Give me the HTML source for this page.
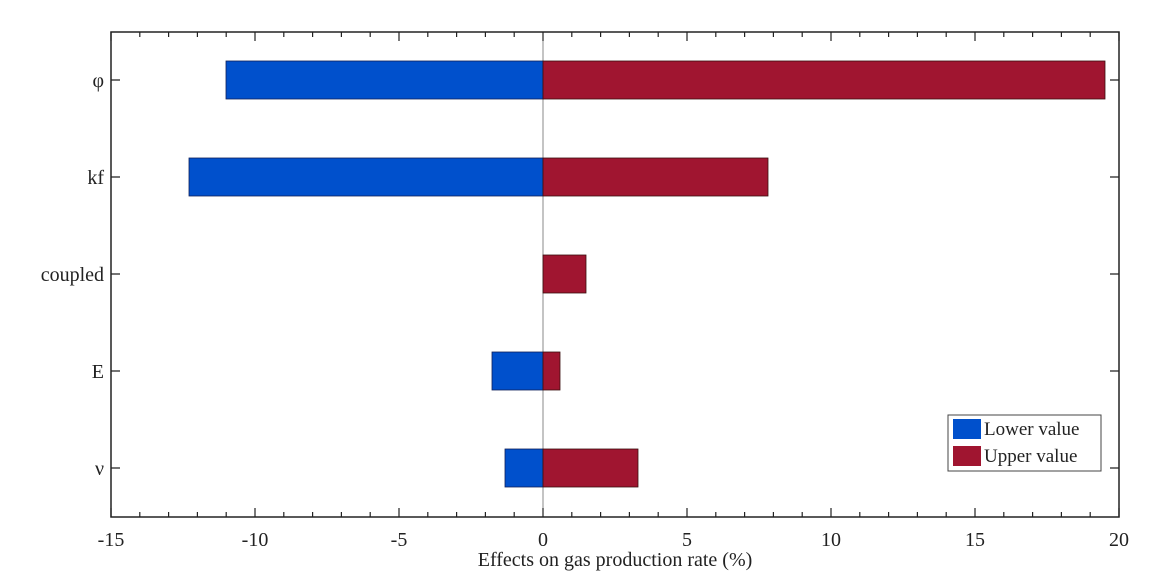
<!DOCTYPE html>
<html><head><meta charset="utf-8"><style>
html,body{margin:0;padding:0;background:#fff;}
svg{display:block;}
text{font-family:"Liberation Serif","DejaVu Serif",serif;fill:#222;}
</style></head><body>
<svg width="1169" height="577" viewBox="0 0 1169 577" xmlns="http://www.w3.org/2000/svg">
<rect width="1169" height="577" fill="#fff"/>
<line x1="543" y1="32" x2="543" y2="517" stroke="#888" stroke-width="1"/>
<g stroke="#3a1010" stroke-width="0.8">
<rect x="226" y="61" width="317" height="38" fill="#0050cc" stroke="#10205a"/>
<rect x="543" y="61" width="562" height="38" fill="#a01530"/>
<rect x="189" y="158" width="354" height="38" fill="#0050cc" stroke="#10205a"/>
<rect x="543" y="158" width="225" height="38" fill="#a01530"/>
<rect x="543" y="255" width="43" height="38" fill="#a01530"/>
<rect x="492" y="352" width="51" height="38" fill="#0050cc" stroke="#10205a"/>
<rect x="543" y="352" width="17" height="38" fill="#a01530"/>
<rect x="505" y="449" width="38" height="38" fill="#0050cc" stroke="#10205a"/>
<rect x="543" y="449" width="95" height="38" fill="#a01530"/>
</g>
<path stroke="#222" stroke-width="1.2" fill="none" d="
M111 517v-9M139.8 517v-5M168.6 517v-5M197.4 517v-5M226.2 517v-5M255 517v-9M283.8 517v-5M312.6 517v-5M341.4 517v-5M370.2 517v-5M399 517v-9M427.8 517v-5M456.6 517v-5M485.4 517v-5M514.2 517v-5M543 517v-9M571.8 517v-5M600.6 517v-5M629.4 517v-5M658.2 517v-5M687 517v-9M715.8 517v-5M744.6 517v-5M773.4 517v-5M802.2 517v-5M831 517v-9M859.8 517v-5M888.6 517v-5M917.4 517v-5M946.2 517v-5M975 517v-9M1003.8 517v-5M1032.6 517v-5M1061.4 517v-5M1090.2 517v-5M1119 517v-9
M111 32v9M139.8 32v5M168.6 32v5M197.4 32v5M226.2 32v5M255 32v9M283.8 32v5M312.6 32v5M341.4 32v5M370.2 32v5M399 32v9M427.8 32v5M456.6 32v5M485.4 32v5M514.2 32v5M543 32v9M571.8 32v5M600.6 32v5M629.4 32v5M658.2 32v5M687 32v9M715.8 32v5M744.6 32v5M773.4 32v5M802.2 32v5M831 32v9M859.8 32v5M888.6 32v5M917.4 32v5M946.2 32v5M975 32v9M1003.8 32v5M1032.6 32v5M1061.4 32v5M1090.2 32v5M1119 32v9
M111 80h9M111 177h9M111 274h9M111 371h9M111 468h9
M1119 80h-9M1119 177h-9M1119 274h-9M1119 371h-9M1119 468h-9"/>
<rect x="111" y="32" width="1008" height="485" fill="none" stroke="#222" stroke-width="1.5"/>
<g font-size="20" text-anchor="middle">
<text x="111" y="546">-15</text><text x="255" y="546">-10</text><text x="399" y="546">-5</text>
<text x="543" y="546">0</text><text x="687" y="546">5</text><text x="831" y="546">10</text>
<text x="975" y="546">15</text><text x="1119" y="546">20</text>
<text x="615" y="566">Effects on gas production rate (%)</text>
</g>
<g font-size="20" text-anchor="end">
<text x="104" y="87">φ</text><text x="104" y="184">kf</text><text x="104" y="281">coupled</text>
<text x="104" y="378">E</text><text x="104" y="475">ν</text>
</g>
<rect x="948" y="415" width="153" height="56" fill="#fff" stroke="#444" stroke-width="1"/>
<rect x="953" y="419" width="28" height="20" fill="#0050cc"/>
<rect x="953" y="446" width="28" height="20" fill="#a01530"/>
<g font-size="19"><text x="984" y="435">Lower value</text><text x="984" y="462">Upper value</text></g>
</svg>
</body></html>
